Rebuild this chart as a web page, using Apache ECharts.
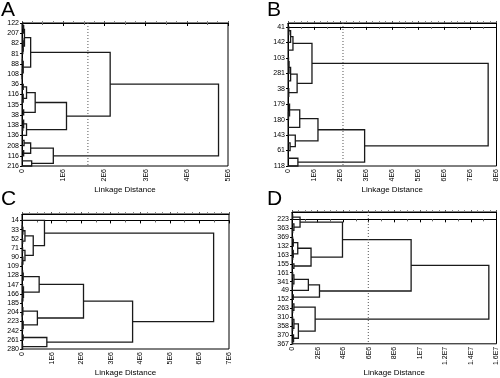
<!DOCTYPE html>
<html><head><meta charset="utf-8">
<script src="https://cdn.jsdelivr.net/npm/echarts@6/dist/echarts.min.js"></script>
<style>html,body{margin:0;padding:0;background:#fff}#c{width:500px;height:378px}</style>
</head><body><div id="c"></div>
<script>
// ---- leaf labels (every other leaf is labelled) ----
const labelsA = ['122','207','82','81','88','108','36','116','135','38','138','136','208','116','216'];
const labelsB = ['41','142','103','281','38','179','180','143','61','118'];
const labelsC = ['14','33','52','71','90','109','128','147','166','185','204','223','242','261','280'];
const labelsD = ['223','363','369','132','163','155','161','341','49','152','263','310','358','370','367'];

// ---- x tick labels (linkage distance) ----
const ticksA = ['0','1E6','2E6','3E6','4E6','5E6'];
const ticksB = ['0','1E6','2E6','3E6','4E6','5E6','6E6','7E6','8E6'];
const ticksC = ['0','1E6','2E6','3E6','4E6','5E6','6E6','7E6'];
const ticksD = ['0','2E6','4E6','6E6','8E6','1E7','1.2E7','1.4E7','1.6E7'];

// ---- cut (dotted) lines, in units of 1E6 ----
const cutA = 1.6;
const cutB = 2.11;
const cutD = 5.97;

// ---- trees: [linkage height (1E6), left, right]; leaves are leaf indices ----
const treeA = [4.77,
  [2.14,
    [0.21, [0.06, [0.04, [0.02, 0, 1], 2], [0.03, [0.02, 3, 4], [0.02, 5, 6]]],
           [0.03, [0.01, 7, 8], [0.01, 9, [0.005, 10, 11]]]],
    [1.08, [0.32, [0.11, [0.03, 12, 13], [0.03, 14, [0.01, 15, 16]]], [0.04, 17, 18]],
           [0.11, [0.04, 19, [0.02, 20, 21]], 22]]],
  [0.76, [0.21, [0.05, 23, 24], [0.04, 25, 26]], [0.235, 27, 28]]];

const treeB = [7.68,
  [0.92, [0.19, [0.1, [0.03, 0, 1], 2], 3],
         [0.35, [0.1, [0.04, [0.02, 4, 5], 6], 7], [0.03, 8, 9]]],
  [2.94, [1.15, [0.45, [0.06, 10, [0.02, 11, 12]], 13], [0.28, 14, [0.08, 15, 16]]],
         [0.38, 17, 18]]];

const treeC = [6.48,
  [0.76, 0, [0.38, [0.1, [0.03, [0.01, 1, 2], 3], [0.02, 4, 5]],
                   [0.1, [0.02, 6, 7], [0.03, 8, [0.01, 9, 10]]]]],
  [3.74,
    [2.08, [0.58, [0.04, [0.02, 11, 12], 13], [0.05, [0.02, 14, 15], [0.03, 16, [0.01, 17, 18]]]],
           [0.52, [0.03, 19, [0.01, 20, 21]], [0.04, 22, [0.02, 23, 24]]]],
    [0.84, [0.04, 25, 26], [0.02, 27, 28]]]];

const treeD = [15.4,
  [9.32,
    [3.95, [0.63, [0.05, -1, 0], [0.15, 1, [0.05, 2, 3]]],
           [1.49, [0.45, [0.1, [0.05, 4, 5], 6], [0.1, 7, [0.05, 8, 9]]], [0.15, 10, 11]]],
    [2.15, [1.28, [0.15, [0.05, 12, 13], [0.05, 14, 15]], 16], [0.1, 17, 18]]],
  [1.81, [0.15, 19, [0.05, 20, 21]],
         [0.5, [0.15, [0.05, 22, 23], [0.05, 24, 25]], [0.12, 26, [0.05, 27, 28]]]]];

// ---- layout (positions only) ----
const FONT = '"Liberation Sans", Arial, sans-serif';
const panels = [
  {tree: treeA, labels: labelsA, ticks: ticksA, max: 5, interval: 1, cut: cutA, ymin: 0, ymax: 28,
   grid: {left: 22, top: 23, width: 206, height: 143}, letter: 'A', lx: 1, ly: 0, nameGap: 16},
  {tree: treeB, labels: labelsB, ticks: ticksB, max: 8, interval: 1, cut: cutB, ymin: -0.5, ymax: 18,
   grid: {left: 288, top: 23, width: 209, height: 143}, letter: 'B', lx: 267, ly: 0, nameGap: 17},
  {tree: treeC, labels: labelsC, ticks: ticksC, max: 7, interval: 1, cut: null, ymin: -1.4, ymax: 28,
   grid: {left: 22, top: 214, width: 207, height: 135}, letter: 'C', lx: 1, ly: 189, nameGap: 19},
  {tree: treeD, labels: labelsD, ticks: ticksD, max: 16, interval: 2, cut: cutD, ymin: -1.65, ymax: 28,
   grid: {left: 292, top: 212, width: 205, height: 138}, letter: 'D', lx: 267, ly: 189, nameGap: 19}
];

function segments(tree) {
  const out = [];
  function walk(n) {
    if (typeof n === 'number') return {y: n, h: 0};
    const l = walk(n[1]), r = walk(n[2]);
    out.push([l.h, l.y, n[0], r.y, r.h]);
    return {y: (l.y + r.y) / 2, h: n[0]};
  }
  walk(tree);
  return out;
}

const option = {
  animation: false,
  backgroundColor: '#fff',
  textStyle: {fontFamily: FONT},
  title: [], grid: [], xAxis: [], yAxis: [], series: []
};

panels.forEach((p, i) => {
  option.title.push({text: p.letter, left: p.lx, top: p.ly, padding: 0,
    textStyle: {fontSize: 21, fontWeight: 'normal', color: '#000', fontFamily: FONT}});
  option.grid.push(Object.assign({show: true, borderColor: '#000', borderWidth: 1, backgroundColor: '#fff'}, p.grid));
  option.xAxis.push({
    gridIndex: i, type: 'value', position: 'bottom', min: 0, max: p.max, interval: p.interval,
    axisLine: {show: true, lineStyle: {color: '#000', width: 1}},
    axisTick: {show: true, length: 3, lineStyle: {color: '#000'}},
    minorTick: {show: true, splitNumber: 2, length: 2, lineStyle: {color: '#666'}},
    splitLine: {show: false},
    axisLabel: {rotate: 90, fontSize: 7, color: '#000', margin: 3, fontFamily: FONT,
      formatter: v => p.ticks[Math.round(v / p.interval)]},
    name: 'Linkage Distance', nameLocation: 'middle', nameGap: p.nameGap,
    nameTextStyle: {fontSize: 8, color: '#000', fontFamily: FONT}
  });
  option.xAxis.push({
    gridIndex: i, type: 'value', position: 'top', min: 0, max: p.max, interval: p.interval,
    axisLine: {show: true, lineStyle: {color: '#000', width: 1}},
    axisTick: {show: true, length: 2, lineStyle: {color: '#555'}},
    minorTick: {show: true, splitNumber: 4, length: 2, lineStyle: {color: '#888'}},
    splitLine: {show: false}, axisLabel: {show: false}
  });
  const pos = p.labels.map((_, k) => 2 * k);
  option.yAxis.push({
    gridIndex: i, type: 'value', inverse: true, min: p.ymin, max: p.ymax,
    axisLine: {show: true, lineStyle: {color: '#000', width: 1}},
    axisTick: {show: true, length: 2, customValues: pos, lineStyle: {color: '#000'}},
    splitLine: {show: false},
    axisLabel: {customValues: pos, fontSize: 7, color: '#000', margin: 3, fontFamily: FONT,
      formatter: v => p.labels[Math.round(v / 2)]}
  });
  option.series.push({
    type: 'custom', xAxisIndex: 2 * i, yAxisIndex: i, silent: true, clip: false,
    data: segments(p.tree),
    renderItem: (params, api) => {
      const a = api.coord([api.value(0), api.value(1)]);
      const b = api.coord([api.value(2), api.value(1)]);
      const c = api.coord([api.value(2), api.value(3)]);
      const d = api.coord([api.value(4), api.value(3)]);
      return {type: 'polyline', shape: {points: [a, b, c, d]},
        style: {stroke: '#1a1a1a', lineWidth: 1.3, fill: null}};
    }
  });
  if (p.cut !== null) {
    option.series.push({
      type: 'line', xAxisIndex: 2 * i, yAxisIndex: i, silent: true, symbol: 'none',
      data: [[p.cut, p.ymin], [p.cut, p.ymax]],
      lineStyle: {type: [1, 2], color: '#555', width: 1}
    });
  }
});

const chart = echarts.init(document.getElementById('c'), null, {renderer: 'canvas'});
chart.setOption(option);
</script>
</body></html>
